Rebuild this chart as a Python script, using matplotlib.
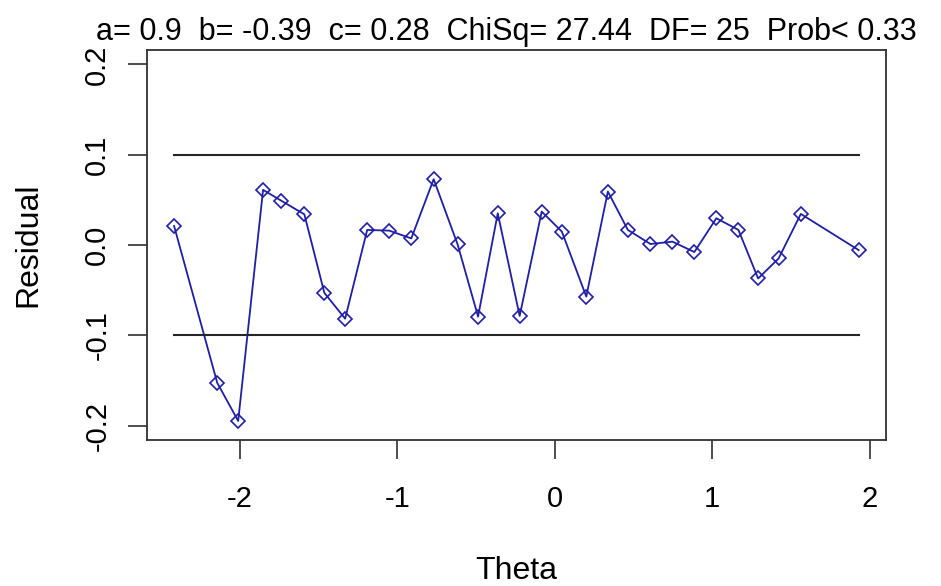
import matplotlib
matplotlib.use("Agg")
import matplotlib.pyplot as plt

theta = [-2.417, -2.143, -2.010, -1.852, -1.738, -1.590, -1.463, -1.331, -1.191, -1.051,
         -0.911, -0.769, -0.617, -0.487, -0.362, -0.223, -0.083, 0.045, 0.200, 0.337,
         0.464, 0.607, 0.747, 0.886, 1.026, 1.166, 1.291, 1.421, 1.562, 1.929]
residual = [0.0211, -0.1527, -0.1949, 0.0611, 0.0492, 0.0340, -0.0530, -0.0816, 0.0167, 0.0159,
            0.0073, 0.0729, 0.0007, -0.0793, 0.0351, -0.0786, 0.0370, 0.0148, -0.0571, 0.0592,
            0.0167, 0.0011, 0.0037, -0.0078, 0.0296, 0.0167, -0.0371, -0.0149, 0.0344, -0.0056]
bounds = [0.1, -0.1]
xticks = [-2, -1, 0, 1, 2]
yticks = [-0.2, -0.1, 0.0, 0.1, 0.2]
ytick_labels = ["-0.2", "-0.1", "0.0", "0.1", "0.2"]
title = "a= 0.9  b= -0.39  c= 0.28  ChiSq= 27.44  DF= 25  Prob< 0.33"

plt.rcParams['font.family'] = ["Liberation Sans", "DejaVu Sans"]

W, H = 941, 586
fig = plt.figure(figsize=(W / 100, H / 100), dpi=100)
ax = fig.add_axes([146.7 / W, 1 - 440 / H, (886 - 146.7) / W, (440 - 50) / H])

line_col = "#1e1ea6"
ax.plot(theta, residual, color=line_col, lw=1.3, marker="D", markersize=7.5,
        markerfacecolor="none", markeredgecolor=line_col, markeredgewidth=1.2)
for b in bounds:
    ax.plot([min(theta), max(theta)], [b, b], color="#262626", lw=1.5)

xmin, xmax = min(theta), max(theta)
dx = (xmax - xmin) * 0.04
ax.set_xlim(xmin - dx, xmax + dx)
ax.set_ylim(-0.2 * 1.08, 0.2 * 1.08)

ax.set_xticks(xticks)
ax.set_xticklabels([str(t) for t in xticks], fontsize=21)
ax.set_yticks(yticks)
ax.set_yticklabels(ytick_labels, fontsize=21, rotation=90, va="center")
ax.tick_params(axis="both", direction="out", length=13.5, width=1.2, color="#303030")
ax.tick_params(axis="x", pad=19)
ax.tick_params(axis="y", pad=12)

for s in ax.spines.values():
    s.set_linewidth(1.3)
    s.set_color("#303030")

ax.set_xlabel("Theta", fontsize=23, labelpad=31)
ax.set_ylabel("Residual", fontsize=23, labelpad=29)

fig.text(506 / W, 1 - 40 / H, title, ha="center", va="baseline", fontsize=22)

fig.savefig("out.png", dpi=100)
